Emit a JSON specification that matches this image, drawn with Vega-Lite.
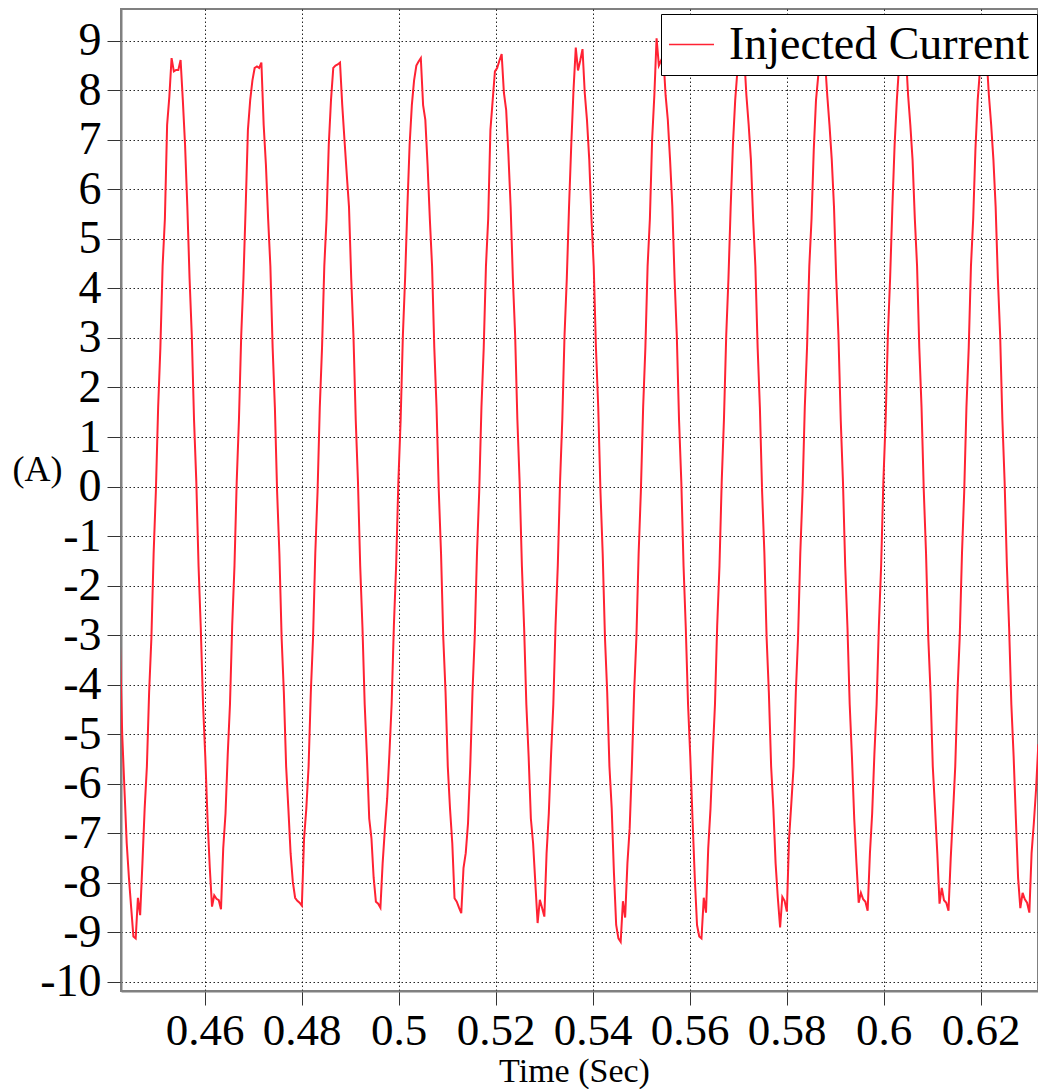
{
"$schema": "https://vega.github.io/schema/vega-lite/v6.json",
"width": 917, "height": 982,
"autosize": {"type": "none"},
"padding": {"left": 121, "top": 9, "right": 0, "bottom": 98},
"background": "white",
"config": {"view": {"stroke": "#808080", "strokeWidth": 2}, "font": "Liberation Serif"},
"data": {"values": [
{"t":0.44253,"i":-3.2},{"t":0.44299,"i":-5.0},{"t":0.44345,"i":-6.1},{"t":0.44392,"i":-7.2},{"t":0.44438,"i":-7.9},{"t":0.44484,"i":-8.5},{"t":0.44530,"i":-9.08},
{"t":0.44577,"i":-9.12},{"t":0.44623,"i":-8.3},{"t":0.44669,"i":-8.65},{"t":0.44716,"i":-7.6},{"t":0.44762,"i":-6.5},{"t":0.44808,"i":-5.65},{"t":0.44854,"i":-4.15},{"t":0.44901,"i":-3.05},{"t":0.44947,"i":-1.35},{"t":0.44993,"i":-0.1},{"t":0.45040,"i":1.6},{"t":0.45086,"i":2.8},{"t":0.45132,"i":4.45},{"t":0.45179,"i":5.4},{"t":0.45225,"i":7.3},{"t":0.45271,"i":7.87},{"t":0.45317,"i":8.65},{"t":0.45364,"i":8.38},{"t":0.45410,"i":8.41},{"t":0.45456,"i":8.41},{"t":0.45503,"i":8.61},{"t":0.45549,"i":7.8},{"t":0.45595,"i":6.9},{"t":0.45642,"i":5.65},{"t":0.45688,"i":4.2},{"t":0.45734,"i":3.05},{"t":0.45780,"i":1.35},{"t":0.45827,"i":0.1},{"t":0.45873,"i":-1.6},{"t":0.45919,"i":-2.85},{"t":0.45966,"i":-4.4},{"t":0.46012,"i":-5.45},{"t":0.46058,"i":-6.7},{"t":0.46105,"i":-7.7},{"t":0.46151,"i":-8.48},{"t":0.46197,"i":-8.25},
{"t":0.46243,"i":-8.32},{"t":0.46290,"i":-8.35},{"t":0.46336,"i":-8.53},{"t":0.46382,"i":-7.3},{"t":0.46429,"i":-6.6},{"t":0.46475,"i":-5.4},{"t":0.46521,"i":-4.4},{"t":0.46567,"i":-2.8},{"t":0.46614,"i":-1.6},{"t":0.46660,"i":0.1},{"t":0.46706,"i":1.35},{"t":0.46753,"i":3.05},{"t":0.46799,"i":4.2},{"t":0.46845,"i":5.65},{"t":0.46891,"i":7.2},{"t":0.46938,"i":7.8},{"t":0.46984,"i":8.2},{"t":0.47030,"i":8.45},{"t":0.47077,"i":8.48},{"t":0.47123,"i":8.45},{"t":0.47169,"i":8.56},{"t":0.47216,"i":7.3},{"t":0.47262,"i":6.5},{"t":0.47308,"i":5.4},{"t":0.47354,"i":4.45},{"t":0.47401,"i":2.8},{"t":0.47447,"i":1.6},{"t":0.47493,"i":-0.1},{"t":0.47540,"i":-1.35},{"t":0.47586,"i":-3.05},{"t":0.47632,"i":-4.15},{"t":0.47679,"i":-5.65},{"t":0.47725,"i":-6.5},{"t":0.47771,"i":-7.4},{"t":0.47817,"i":-7.98},{"t":0.47864,"i":-8.3},
{"t":0.47910,"i":-8.36},{"t":0.47956,"i":-8.4},{"t":0.48003,"i":-8.46},{"t":0.48049,"i":-7.1},{"t":0.48095,"i":-6.5},{"t":0.48142,"i":-5.65},{"t":0.48188,"i":-4.15},{"t":0.48234,"i":-3.05},{"t":0.48280,"i":-1.35},{"t":0.48327,"i":-0.1},{"t":0.48373,"i":1.6},{"t":0.48419,"i":2.8},{"t":0.48466,"i":4.45},{"t":0.48512,"i":5.4},{"t":0.48558,"i":6.9},{"t":0.48604,"i":7.8},{"t":0.48651,"i":8.45},{"t":0.48697,"i":8.5},{"t":0.48743,"i":8.52},{"t":0.48790,"i":8.56},{"t":0.48836,"i":7.7},{"t":0.48882,"i":7.0},{"t":0.48929,"i":6.3},{"t":0.48975,"i":5.65},{"t":0.49021,"i":4.2},{"t":0.49067,"i":3.05},{"t":0.49114,"i":1.35},{"t":0.49160,"i":0.1},{"t":0.49206,"i":-1.6},{"t":0.49253,"i":-2.85},{"t":0.49299,"i":-4.4},{"t":0.49345,"i":-5.45},{"t":0.49392,"i":-6.7},{"t":0.49438,"i":-7.1},{"t":0.49484,"i":-7.9},{"t":0.49530,"i":-8.38},
{"t":0.49577,"i":-8.42},{"t":0.49623,"i":-8.5},{"t":0.49669,"i":-7.6},{"t":0.49716,"i":-6.9},{"t":0.49762,"i":-6.3},{"t":0.49808,"i":-5.4},{"t":0.49854,"i":-4.4},{"t":0.49901,"i":-2.8},{"t":0.49947,"i":-1.6},{"t":0.49993,"i":0.1},{"t":0.50040,"i":1.35},{"t":0.50086,"i":3.05},{"t":0.50132,"i":4.2},{"t":0.50179,"i":5.65},{"t":0.50225,"i":6.9},{"t":0.50271,"i":7.7},{"t":0.50317,"i":8.2},{"t":0.50364,"i":8.5},{"t":0.50410,"i":8.58},{"t":0.50456,"i":8.65},{"t":0.50503,"i":7.7},{"t":0.50549,"i":7.4},{"t":0.50595,"i":6.5},{"t":0.50642,"i":5.4},{"t":0.50688,"i":4.45},{"t":0.50734,"i":2.8},{"t":0.50780,"i":1.6},{"t":0.50827,"i":-0.1},{"t":0.50873,"i":-1.35},{"t":0.50919,"i":-3.05},{"t":0.50966,"i":-4.15},{"t":0.51012,"i":-5.65},{"t":0.51058,"i":-6.5},{"t":0.51105,"i":-7.2},{"t":0.51151,"i":-8.31},{"t":0.51197,"i":-8.38},
{"t":0.51243,"i":-8.5},{"t":0.51290,"i":-8.61},{"t":0.51336,"i":-7.7},{"t":0.51382,"i":-7.4},{"t":0.51429,"i":-6.8},{"t":0.51475,"i":-5.65},{"t":0.51521,"i":-4.15},{"t":0.51567,"i":-3.05},{"t":0.51614,"i":-1.35},{"t":0.51660,"i":-0.1},{"t":0.51706,"i":1.6},{"t":0.51753,"i":2.8},{"t":0.51799,"i":4.45},{"t":0.51845,"i":5.4},{"t":0.51891,"i":7.2},{"t":0.51938,"i":7.8},{"t":0.51984,"i":8.38},{"t":0.52030,"i":8.45},{"t":0.52077,"i":8.6},{"t":0.52123,"i":8.73},{"t":0.52169,"i":7.95},{"t":0.52216,"i":7.6},{"t":0.52262,"i":6.7},{"t":0.52308,"i":5.65},{"t":0.52354,"i":4.2},{"t":0.52401,"i":3.05},{"t":0.52447,"i":1.35},{"t":0.52493,"i":0.1},{"t":0.52540,"i":-1.6},{"t":0.52586,"i":-2.85},{"t":0.52632,"i":-4.4},{"t":0.52679,"i":-5.45},{"t":0.52725,"i":-6.7},{"t":0.52771,"i":-7.2},{"t":0.52817,"i":-8.0},{"t":0.52864,"i":-8.81},
{"t":0.52910,"i":-8.34},{"t":0.52956,"i":-8.5},{"t":0.53003,"i":-8.68},{"t":0.53049,"i":-7.4},{"t":0.53095,"i":-6.6},{"t":0.53142,"i":-5.4},{"t":0.53188,"i":-4.4},{"t":0.53234,"i":-2.8},{"t":0.53280,"i":-1.6},{"t":0.53327,"i":0.1},{"t":0.53373,"i":1.35},{"t":0.53419,"i":3.05},{"t":0.53466,"i":4.2},{"t":0.53512,"i":5.65},{"t":0.53558,"i":6.9},{"t":0.53604,"i":8.0},{"t":0.53651,"i":8.86},{"t":0.53697,"i":8.4},{"t":0.53743,"i":8.6},{"t":0.53790,"i":8.83},{"t":0.53836,"i":7.95},{"t":0.53882,"i":7.4},{"t":0.53929,"i":6.6},{"t":0.53975,"i":5.4},{"t":0.54021,"i":4.45},{"t":0.54067,"i":2.8},{"t":0.54114,"i":1.6},{"t":0.54160,"i":-0.1},{"t":0.54206,"i":-1.35},{"t":0.54253,"i":-3.05},{"t":0.54299,"i":-4.15},{"t":0.54345,"i":-5.65},{"t":0.54392,"i":-6.5},{"t":0.54438,"i":-7.8},{"t":0.54484,"i":-8.85},{"t":0.54530,"i":-9.12},
{"t":0.54577,"i":-9.19},{"t":0.54623,"i":-8.37},{"t":0.54669,"i":-8.7},{"t":0.54716,"i":-7.6},{"t":0.54762,"i":-6.9},{"t":0.54808,"i":-5.65},{"t":0.54854,"i":-4.15},{"t":0.54901,"i":-3.05},{"t":0.54947,"i":-1.35},{"t":0.54993,"i":-0.1},{"t":0.55040,"i":1.6},{"t":0.55086,"i":2.8},{"t":0.55132,"i":4.45},{"t":0.55179,"i":5.4},{"t":0.55225,"i":7.0},{"t":0.55271,"i":7.9},{"t":0.55317,"i":9.05},{"t":0.55364,"i":8.5},{"t":0.55410,"i":8.6},{"t":0.55456,"i":8.7},{"t":0.55503,"i":7.9},{"t":0.55549,"i":7.4},{"t":0.55595,"i":6.6},{"t":0.55642,"i":5.65},{"t":0.55688,"i":4.2},{"t":0.55734,"i":3.05},{"t":0.55780,"i":1.35},{"t":0.55827,"i":0.1},{"t":0.55873,"i":-1.6},{"t":0.55919,"i":-2.85},{"t":0.55966,"i":-4.4},{"t":0.56012,"i":-5.45},{"t":0.56058,"i":-6.7},{"t":0.56105,"i":-7.9},{"t":0.56151,"i":-8.85},{"t":0.56197,"i":-9.08},
{"t":0.56243,"i":-9.12},{"t":0.56290,"i":-8.3},{"t":0.56336,"i":-8.6},{"t":0.56382,"i":-7.3},{"t":0.56429,"i":-6.5},{"t":0.56475,"i":-5.4},{"t":0.56521,"i":-4.4},{"t":0.56567,"i":-2.8},{"t":0.56614,"i":-1.6},{"t":0.56660,"i":0.1},{"t":0.56706,"i":1.35},{"t":0.56753,"i":3.05},{"t":0.56799,"i":4.2},{"t":0.56845,"i":5.65},{"t":0.56891,"i":6.9},{"t":0.56938,"i":7.8},{"t":0.56984,"i":8.4},{"t":0.57030,"i":8.5},{"t":0.57077,"i":8.55},{"t":0.57123,"i":8.7},{"t":0.57169,"i":7.9},{"t":0.57216,"i":7.3},{"t":0.57262,"i":6.6},{"t":0.57308,"i":5.4},{"t":0.57354,"i":4.45},{"t":0.57401,"i":2.8},{"t":0.57447,"i":1.6},{"t":0.57493,"i":-0.1},{"t":0.57540,"i":-1.35},{"t":0.57586,"i":-3.05},{"t":0.57632,"i":-4.15},{"t":0.57679,"i":-5.65},{"t":0.57725,"i":-6.5},{"t":0.57771,"i":-7.6},{"t":0.57817,"i":-8.3},{"t":0.57864,"i":-8.9},
{"t":0.57910,"i":-8.28},{"t":0.57956,"i":-8.36},{"t":0.58003,"i":-8.58},{"t":0.58049,"i":-7.1},{"t":0.58095,"i":-6.4},{"t":0.58142,"i":-5.65},{"t":0.58188,"i":-4.15},{"t":0.58234,"i":-3.05},{"t":0.58280,"i":-1.35},{"t":0.58327,"i":-0.1},{"t":0.58373,"i":1.6},{"t":0.58419,"i":2.8},{"t":0.58466,"i":4.45},{"t":0.58512,"i":5.4},{"t":0.58558,"i":6.8},{"t":0.58604,"i":7.8},{"t":0.58651,"i":8.3},{"t":0.58697,"i":8.5},{"t":0.58743,"i":8.55},{"t":0.58790,"i":8.6},{"t":0.58836,"i":7.9},{"t":0.58882,"i":7.3},{"t":0.58929,"i":6.6},{"t":0.58975,"i":5.65},{"t":0.59021,"i":4.2},{"t":0.59067,"i":3.05},{"t":0.59114,"i":1.35},{"t":0.59160,"i":0.1},{"t":0.59206,"i":-1.6},{"t":0.59253,"i":-2.85},{"t":0.59299,"i":-4.4},{"t":0.59345,"i":-5.45},{"t":0.59392,"i":-6.7},{"t":0.59438,"i":-7.6},{"t":0.59484,"i":-8.4},{"t":0.59530,"i":-8.2},
{"t":0.59577,"i":-8.33},{"t":0.59623,"i":-8.38},{"t":0.59669,"i":-8.56},{"t":0.59716,"i":-7.4},{"t":0.59762,"i":-6.6},{"t":0.59808,"i":-5.4},{"t":0.59854,"i":-4.4},{"t":0.59901,"i":-2.8},{"t":0.59947,"i":-1.6},{"t":0.59993,"i":0.1},{"t":0.60040,"i":1.35},{"t":0.60086,"i":3.05},{"t":0.60132,"i":4.2},{"t":0.60179,"i":5.65},{"t":0.60225,"i":6.9},{"t":0.60271,"i":7.8},{"t":0.60317,"i":8.5},{"t":0.60364,"i":8.5},{"t":0.60410,"i":8.55},{"t":0.60456,"i":8.75},{"t":0.60503,"i":7.9},{"t":0.60549,"i":7.3},{"t":0.60595,"i":6.6},{"t":0.60642,"i":5.4},{"t":0.60688,"i":4.45},{"t":0.60734,"i":2.8},{"t":0.60780,"i":1.6},{"t":0.60827,"i":-0.1},{"t":0.60873,"i":-1.35},{"t":0.60919,"i":-3.05},{"t":0.60966,"i":-4.15},{"t":0.61012,"i":-5.65},{"t":0.61058,"i":-6.5},{"t":0.61105,"i":-7.4},{"t":0.61151,"i":-8.42},{"t":0.61197,"i":-8.1},
{"t":0.61243,"i":-8.35},{"t":0.61290,"i":-8.4},{"t":0.61336,"i":-8.56},{"t":0.61382,"i":-7.5},{"t":0.61429,"i":-6.6},{"t":0.61475,"i":-5.65},{"t":0.61521,"i":-4.15},{"t":0.61567,"i":-3.05},{"t":0.61614,"i":-1.35},{"t":0.61660,"i":-0.1},{"t":0.61706,"i":1.6},{"t":0.61753,"i":2.8},{"t":0.61799,"i":4.45},{"t":0.61845,"i":5.4},{"t":0.61891,"i":6.8},{"t":0.61938,"i":7.8},{"t":0.61984,"i":8.4},{"t":0.62030,"i":8.5},{"t":0.62077,"i":8.55},{"t":0.62123,"i":8.65},{"t":0.62169,"i":7.9},{"t":0.62216,"i":7.3},{"t":0.62262,"i":6.6},{"t":0.62308,"i":5.65},{"t":0.62354,"i":4.2},{"t":0.62401,"i":3.05},{"t":0.62447,"i":1.35},{"t":0.62493,"i":0.1},{"t":0.62540,"i":-1.6},{"t":0.62586,"i":-2.85},{"t":0.62632,"i":-4.4},{"t":0.62679,"i":-5.45},{"t":0.62725,"i":-6.7},{"t":0.62771,"i":-7.9},{"t":0.62817,"i":-8.51},{"t":0.62864,"i":-8.2},
{"t":0.62910,"i":-8.33},{"t":0.62956,"i":-8.4},{"t":0.63003,"i":-8.6},{"t":0.63049,"i":-7.4},{"t":0.63095,"i":-6.8},{"t":0.63142,"i":-6.1},{"t":0.63188,"i":-5.2}
]},
"mark": {"type": "line", "clip": true, "strokeWidth": 2},
"encoding": {
  "x": {"field": "t", "type": "quantitative",
    "scale": {"domain": [0.442742, 0.631814], "nice": false, "zero": false},
    "axis": {"values": [0.46, 0.48, 0.5, 0.52, 0.54, 0.56, 0.58, 0.6, 0.62],
      "labelExpr": "'' + datum.value",
      "title": "Time (Sec)",
      "labelFont": "Liberation Serif", "labelFontSize": 45, "labelColor": "#000",
      "labelPadding": 3, "labelFlush": false, "labelOverlap": false,
      "tickSize": 14, "tickColor": "#333", "tickWidth": 1,
      "domainColor": "#808080", "domainWidth": 2,
      "grid": true, "gridColor": "#000", "gridDash": [1.5, 2.5], "gridWidth": 1, "gridOpacity": 0.85,
      "titleFont": "Liberation Serif", "titleFontSize": 34, "titleFontWeight": "normal", "titleColor": "#000",
      "titleX": 453, "titleY": 90, "titleBaseline": "alphabetic", "titleAlign": "center"}},
  "y": {"field": "i", "type": "quantitative",
    "scale": {"domain": [-10.182, 9.64], "nice": false, "zero": false},
    "axis": {"values": [-10, -9, -8, -7, -6, -5, -4, -3, -2, -1, 0, 1, 2, 3, 4, 5, 6, 7, 8, 9],
      "labelExpr": "'' + datum.value",
      "title": "(A)",
      "labelFont": "Liberation Serif", "labelFontSize": 46, "labelColor": "#000",
      "labelPadding": 6, "labelOverlap": false, "labelFlush": false,
      "tickSize": 14, "tickColor": "#333", "tickWidth": 1,
      "domainColor": "#808080", "domainWidth": 2,
      "grid": true, "gridColor": "#000", "gridDash": [1.5, 2.5], "gridWidth": 1, "gridOpacity": 0.85,
      "titleFont": "Liberation Serif", "titleFontSize": 36, "titleFontWeight": "normal", "titleColor": "#000",
      "titleAngle": 0, "titleX": -84, "titleY": 460, "titleAlign": "center", "titleBaseline": "middle"}},
  "color": {"datum": "Injected Current", "type": "nominal",
    "scale": {"range": ["#ff2233"]},
    "legend": {"title": null, "orient": "none", "legendX": 540, "legendY": 5,
      "symbolType": "stroke", "symbolSize": 2025, "symbolStrokeWidth": 1.5,
      "labelFont": "Liberation Serif", "labelFontSize": 46, "labelColor": "#000", "labelLimit": 500,
      "labelOffset": 14, "padding": 7, "strokeColor": "#000", "fillColor": "#fff"}}
}
}
